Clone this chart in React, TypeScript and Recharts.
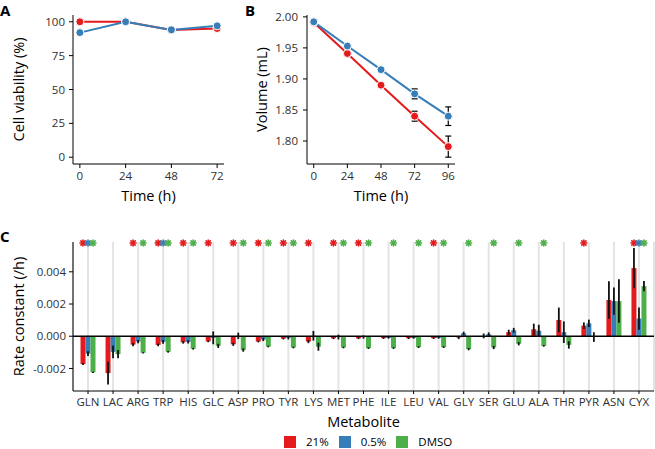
import React from 'react'
import { LineChart, Line, BarChart, Bar, XAxis, YAxis, CartesianGrid, ErrorBar, ReferenceLine, LabelList } from 'recharts'

const FONT = '"Open Sans", sans-serif'
const RED = '#E41A1C'
const BLUE = '#377EB8'
const GREEN = '#4DAF4A'

// Panel A: cell viability
const viabTime = [0, 24, 48, 72]
const viab21 = [100, 100, 94, 95]
const viab05 = [92, 100, 94, 97]

// Panel B: volume
const volTime = [0, 24, 48, 72, 96]
const vol21 = [1.991, 1.941, 1.89, 1.84, 1.791]
const vol21Err = [0.001, 0.002, 0.002, 0.008, 0.017]
const vol05 = [1.992, 1.953, 1.915, 1.876, 1.84]
const vol05Err = [0.001, 0.002, 0.004, 0.008, 0.015]

// Panel C: rate constants
const metabolites = ['GLN', 'LAC', 'ARG', 'TRP', 'HIS', 'GLC', 'ASP', 'PRO', 'TYR', 'LYS', 'MET', 'PHE', 'ILE', 'LEU', 'VAL', 'GLY', 'SER', 'GLU', 'ALA', 'THR', 'PYR', 'ASN', 'CYX']
const k21 = [-0.00173, -0.00229, -0.00052, -0.00054, -0.00038, -0.00032, -0.0005, -0.00033, -0.00015, -0.00033, -0.00013, -0.00013, -0.00012, -0.00012, -0.00012, -0.00008, 0.00002, 0.00025, 0.00043, 0.00101, 0.00066, 0.00225, 0.00423]
const k21Err = [0.00006, 0.0007, 0.0001, 0.00008, 0.00008, 0.00005, 0.0001, 0.00005, 0.00005, 0.0001, 0.00005, 0.00005, 0.00005, 0.00005, 0.00005, 0.0001, 0.00015, 0.00015, 0.00035, 0.00077, 0.0002, 0.00117, 0.00125]
const k05 = [-0.00108, -0.00097, -0.00033, -0.00035, -0.00035, -0.0001, 0.00002, -0.0002, -0.0001, 0.00003, -0.00005, -0.00005, -0.0001, -0.0001, -0.0001, 0.00018, 0.00012, 0.00037, 0.00034, 0.00025, 0.0008, 0.00218, 0.0011]
const k05Err = [0.00015, 0.0004, 0.0001, 0.00012, 0.0001, 0.0004, 0.0002, 0.0001, 0.0001, 0.0003, 0.00015, 0.0001, 0.00005, 0.00005, 0.00005, 0.0001, 0.00012, 0.00015, 0.00037, 0.00067, 0.00023, 0.00085, 0.00069]
const kDmso = [-0.00224, -0.00111, -0.00103, -0.00097, -0.00078, -0.0006, -0.00086, -0.00064, -0.0007, -0.00065, -0.0007, -0.00074, -0.00074, -0.00068, -0.00068, -0.0008, -0.0007, -0.00047, -0.0006, -0.00054, -0.00005, 0.00218, 0.00311]
const kDmsoErr = [0.00004, 0.00025, 0.00004, 0.00005, 0.00005, 0.00013, 0.0001, 0.00005, 0.00005, 0.00025, 0.00005, 0.00005, 0.00005, 0.00005, 0.00005, 0.00007, 0.0001, 0.0001, 0.00005, 0.00023, 0.0003, 0.00135, 0.00032]
// significance marks (1 = asterisk)
const sig21 = [1, 0, 1, 1, 1, 1, 1, 1, 1, 1, 1, 1, 0, 0, 1, 0, 0, 0, 0, 0, 1, 0, 1]
const sig05 = [1, 0, 0, 1, 0, 0, 0, 0, 0, 0, 0, 0, 0, 0, 0, 0, 0, 0, 0, 0, 0, 0, 1]
const sigDmso = [1, 0, 1, 1, 1, 0, 1, 1, 1, 0, 1, 1, 1, 1, 1, 1, 1, 1, 1, 0, 0, 0, 1]

const legendItems = [
  { name: '21%', color: RED },
  { name: '0.5%', color: BLUE },
  { name: 'DMSO', color: GREEN },
]

const viabData = viabTime.map((t, i) => ({ t, o21: viab21[i], o05: viab05[i] }))
const volData = volTime.map((t, i) => ({ t, o21: vol21[i], e21: vol21Err[i], o05: vol05[i], e05: vol05Err[i] }))
const rateData = metabolites.map((m, i) => ({
  m,
  k21: k21[i], e21: k21Err[i], s21: sig21[i],
  k05: k05[i], e05: k05Err[i], s05: sig05[i],
  kD: kDmso[i], eD: kDmsoErr[i], sD: sigDmso[i],
}))

const tickStyle = { fontFamily: FONT, fontSize: 11.5, fill: '#303030' }
const titleStyle = { fontFamily: FONT, fontSize: 14.5, fill: '#000' }
const axisLine = { stroke: '#000', strokeWidth: 1 }
const tickLine = { stroke: '#000', strokeWidth: 1 }

const STAR_Y = 23

function starContent(color: string) {
  return (props: any) => {
    if (!props.value) return null
    const vb = props.viewBox ?? props
    const cx = Number(vb.x) + Number(vb.width) / 2
    const r = 3
    const d = r * 0.7
    return (
      <g stroke={color} strokeWidth={1.6} strokeLinecap="round">
        <line x1={cx - r} y1={STAR_Y} x2={cx + r} y2={STAR_Y} />
        <line x1={cx} y1={STAR_Y - r} x2={cx} y2={STAR_Y + r} />
        <line x1={cx - d} y1={STAR_Y - d} x2={cx + d} y2={STAR_Y + d} />
        <line x1={cx - d} y1={STAR_Y + d} x2={cx + d} y2={STAR_Y - d} />
      </g>
    )
  }
}

function dot(color: string) {
  return { r: 4, fill: color, stroke: '#fff', strokeWidth: 1 }
}

const panelLabel = (left: number, top: number): React.CSSProperties => ({
  position: 'absolute', left, top, fontSize: 15, lineHeight: '15px', fontWeight: 700, color: '#000',
})

export default function App() {
  return (
    <div style={{ position: 'absolute', left: 0, top: 0, width: 655, height: 449, background: '#fff', fontFamily: FONT, overflow: 'hidden' }}>
      <div style={{ position: 'absolute', left: 0, top: 0 }}>
        <LineChart width={230} height={210} data={viabData} margin={{ top: 15, right: 6, bottom: 0, left: 0 }}>
          <XAxis
            dataKey="t" type="number" domain={[-3.6, 75.6]} ticks={[0, 24, 48, 72]} allowDataOverflow
            height={46} tick={tickStyle} tickSize={4} tickMargin={3.5} axisLine={axisLine} tickLine={tickLine}
            label={{ value: 'Time (h)', position: 'insideBottom', offset: 9, style: titleStyle }}
          />
          <YAxis
            type="number" domain={[-5, 105]} ticks={[0, 25, 50, 75, 100]} allowDataOverflow
            width={73} tick={tickStyle} tickSize={4} tickMargin={4} axisLine={axisLine} tickLine={tickLine}
            label={{ value: 'Cell viability (%)', angle: -90, position: 'insideLeft', offset: 19, style: { ...titleStyle, textAnchor: 'middle' } }}
          />
          <Line dataKey="o21" stroke={RED} strokeWidth={2} dot={dot(RED)} isAnimationActive={false} />
          <Line dataKey="o05" stroke={BLUE} strokeWidth={2} dot={dot(BLUE)} isAnimationActive={false} />
        </LineChart>
      </div>

      <div style={{ position: 'absolute', left: 240, top: 0 }}>
        <LineChart width={220} height={210} data={volData} margin={{ top: 15, right: 5, bottom: 0, left: 0 }}>
          <XAxis
            dataKey="t" type="number" domain={[-4.8, 100.8]} ticks={[0, 24, 48, 72, 96]} allowDataOverflow
            height={46} tick={tickStyle} tickSize={4} tickMargin={3.5} axisLine={axisLine} tickLine={tickLine}
            label={{ value: 'Time (h)', position: 'insideBottom', offset: 9, style: titleStyle }}
          />
          <YAxis
            type="number" domain={[1.763, 2.003]} ticks={[1.8, 1.85, 1.9, 1.95, 2.0]} allowDataOverflow
            tickFormatter={(v: number) => v.toFixed(2)}
            width={67} tick={tickStyle} tickSize={4} tickMargin={5} axisLine={axisLine} tickLine={tickLine}
            label={{ value: 'Volume (mL)', angle: -90, position: 'insideLeft', offset: 22, style: { ...titleStyle, textAnchor: 'middle' } }}
          />
          <Line dataKey="o21" stroke={RED} strokeWidth={2} dot={dot(RED)} isAnimationActive={false}>
            <ErrorBar dataKey="e21" width={3} stroke="#000" strokeWidth={1.2} direction="y" />
          </Line>
          <Line dataKey="o05" stroke={BLUE} strokeWidth={2} dot={dot(BLUE)} isAnimationActive={false}>
            <ErrorBar dataKey="e05" width={3} stroke="#000" strokeWidth={1.2} direction="y" />
          </Line>
        </LineChart>
      </div>

      <div style={{ position: 'absolute', left: 0, top: 220 }}>
        <BarChart width={655} height={212} data={rateData} margin={{ top: 22, right: 1, bottom: 0, left: 0 }} barGap={0} barCategoryGap={5}>
          <CartesianGrid horizontal={false} stroke="#e4e4e4" strokeWidth={2} />
          <XAxis
            dataKey="m" type="category" interval={0} padding={{ left: 2.5, right: 2.5 }}
            height={41} tick={tickStyle} tickSize={3} tickMargin={4} axisLine={axisLine} tickLine={tickLine}
            label={{ value: 'Metabolite', position: 'insideBottom', offset: 5, style: titleStyle }}
          />
          <YAxis
            type="number" domain={[-0.0034, 0.00585]} ticks={[-0.002, 0, 0.002, 0.004]} allowDataOverflow
            tickFormatter={(v: number) => v.toFixed(3)}
            width={73} tick={tickStyle} tickSize={4} tickMargin={3} axisLine={axisLine} tickLine={tickLine}
            label={{ value: 'Rate constant (/h)', angle: -90, position: 'insideLeft', offset: 19, style: { ...titleStyle, textAnchor: 'middle' } }}
          />
          <ReferenceLine y={0} stroke="#000" strokeWidth={1.3} />
          <Bar dataKey="k21" fill={RED} isAnimationActive={false}>
            <ErrorBar dataKey="e21" width={0} stroke="#111" strokeWidth={1.8} direction="y" />
            <LabelList dataKey="s21" content={starContent(RED)} />
          </Bar>
          <Bar dataKey="k05" fill={BLUE} isAnimationActive={false}>
            <ErrorBar dataKey="e05" width={0} stroke="#111" strokeWidth={1.8} direction="y" />
            <LabelList dataKey="s05" content={starContent(BLUE)} />
          </Bar>
          <Bar dataKey="kD" fill={GREEN} isAnimationActive={false}>
            <ErrorBar dataKey="eD" width={0} stroke="#111" strokeWidth={1.8} direction="y" />
            <LabelList dataKey="sD" content={starContent(GREEN)} />
          </Bar>
        </BarChart>
      </div>

      <div style={{ position: 'absolute', left: 284, top: 436, height: 12, display: 'flex', alignItems: 'center', fontSize: 11.5, lineHeight: '12px', color: '#000' }}>
        {legendItems.map((s) => (
          <div key={s.name} style={{ display: 'flex', alignItems: 'center', marginRight: 10 }}>
            <span style={{ display: 'inline-block', width: 12, height: 12, background: s.color, marginRight: 10 }} />
            <span>{s.name}</span>
          </div>
        ))}
      </div>

      <div style={panelLabel(0, 3)}>A</div>
      <div style={panelLabel(245, 3)}>B</div>
      <div style={panelLabel(0, 229)}>C</div>
    </div>
  )
}
